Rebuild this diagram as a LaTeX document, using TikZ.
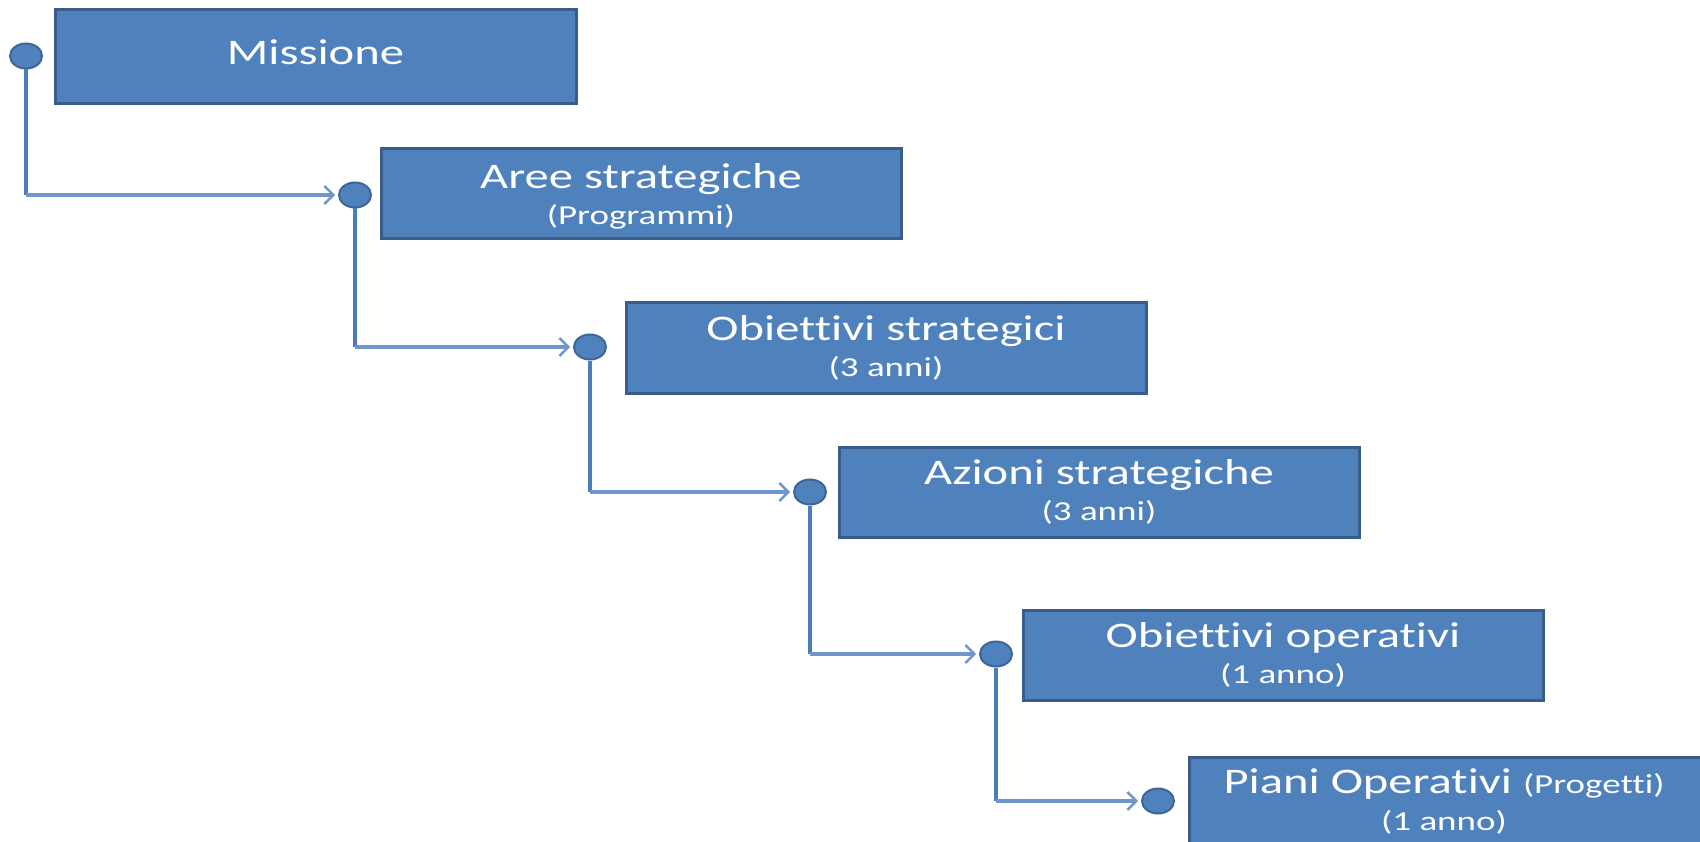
\documentclass[tikz,border=0pt]{standalone}
\usepackage{fontspec}
\setmainfont{Carlito}[FakeStretch=1.35,Ligatures=NoCommon]
\usetikzlibrary{arrows.meta,shapes.geometric}
\definecolor{boxfill}{HTML}{4F81BD}
\definecolor{boxline}{HTML}{385D8A}
\definecolor{vline}{HTML}{4A7EBB}
\definecolor{hline}{HTML}{6F96CB}
\definecolor{dotline}{HTML}{3C6699}
\newcommand{\subsize}{\fontsize{27.4}{30}\selectfont}
\begin{document}
\begin{tikzpicture}[x=1pt,y=-1pt,
  stepbox/.style={draw=boxline, fill=boxfill, line width=3pt, minimum width=520pt, minimum height=90pt, inner sep=0pt, outer sep=0pt, anchor=north west},
  title/.style={text=white, font=\fontsize{36}{40}\selectfont, anchor=base, inner sep=0pt},
  sub/.style={text=white, font=\subsize, anchor=base, inner sep=0pt},
  dot/.style={ellipse, draw=dotline, fill=boxfill, line width=2pt, minimum width=32pt, minimum height=25pt, inner sep=0pt},
  vconn/.style={draw=vline, line width=3.2pt},
  hconn/.style={draw=hline, line width=3.4pt, -{Straight Barb[length=9pt,width=18pt,line width=2.4pt]}, shorten >=3pt}
]
\useasboundingbox (0,0) rectangle (1700,842);

% boxes
\node[stepbox, minimum width=521pt, minimum height=94pt] (b1) at (55,10) {};
\node[stepbox] (b2) at (381,149) {};
\node[stepbox] (b3) at (626,303) {};
\node[stepbox] (b4) at (839,447) {};
\node[stepbox] (b5) at (1023,610) {};
\node[stepbox] (b6) at (1189,757) {};

% texts
\node[title, yshift=-55pt] (t1) at (b1.north) {Missione};
\node[title, yshift=-40pt] (t2) at (b2.north) {Aree strategiche};
\node[sub, yshift=-76pt] (s2) at (b2.north) {(Programmi)};
\node[title, yshift=-38pt] (t3) at (b3.north) {Obiettivi strategici};
\node[sub, yshift=-73pt] (s3) at (b3.north) {(3 anni)};
\node[title, yshift=-37pt] (t4) at (b4.north) {Azioni strategiche};
\node[sub, yshift=-73pt] (s4) at (b4.north) {(3 anni)};
\node[title, yshift=-37pt] (t5) at (b5.north) {Obiettivi operativi};
\node[sub, yshift=-73pt] (s5) at (b5.north) {(1 anno)};
\node[title, yshift=-36pt, xshift=-5pt] (t6) at (b6.north) {Piani Operativi {\subsize(Progetti)}};
\node[sub, yshift=-73pt, xshift=-5pt] (s6) at (b6.north) {(1 anno)};

% dots
\node[dot] (d1) at (26,56) {};
\node[dot] (d2) at (355,195) {};
\node[dot] (d3) at (590,347) {};
\node[dot] (d4) at (810,492) {};
\node[dot] (d5) at (996,654) {};
\node[dot] (d6) at (1158,801) {};

% connectors
\coordinate (c1) at (d1 |- d2);
\coordinate (c2) at (d2 |- d3);
\coordinate (c3) at (d3 |- d4);
\coordinate (c4) at (d4 |- d5);
\coordinate (c5) at (d5 |- d6);
\draw[vconn] (d1) -- (c1);
\draw[vconn] (d2) -- (c2);
\draw[vconn] (d3) -- (c3);
\draw[vconn] (d4) -- (c4);
\draw[vconn] (d5) -- (c5);
\draw[hconn] (c1) -- (d2);
\draw[hconn] (c2) -- (d3);
\draw[hconn] (c3) -- (d4);
\draw[hconn] (c4) -- (d5);
\draw[hconn] (c5) -- (d6);
\end{tikzpicture}
\end{document}
